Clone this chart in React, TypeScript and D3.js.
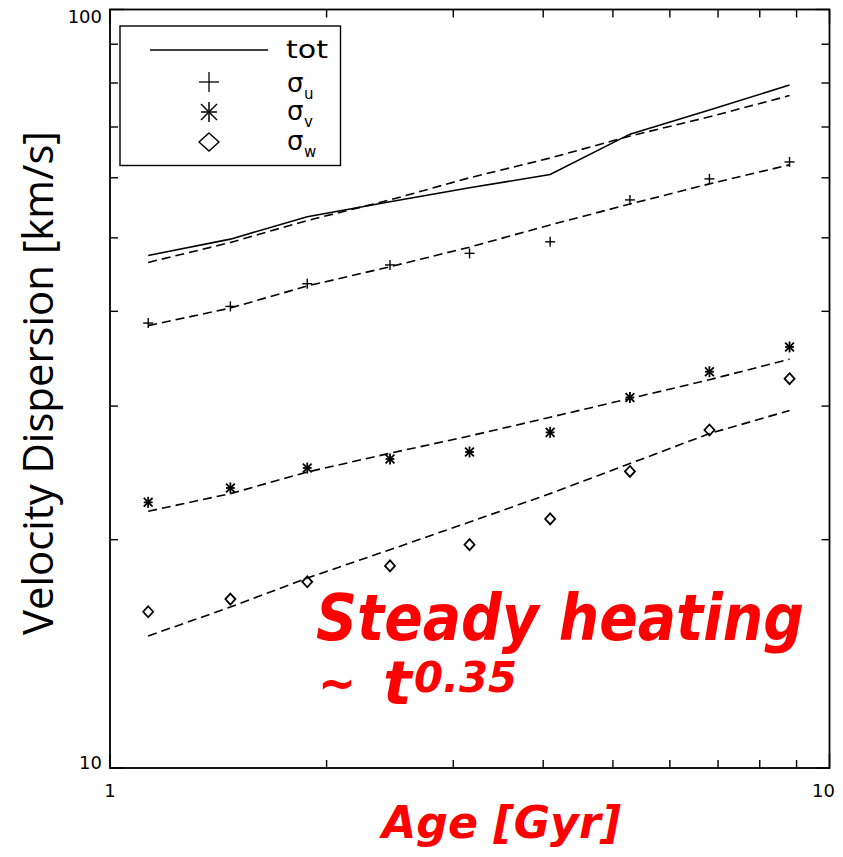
import React from "react";
import * as d3 from "d3";

const ages = [1.13, 1.47, 1.88, 2.45, 3.16, 4.09, 5.28, 6.81, 8.8];
const totObs = [47.4, 49.8, 53.3, 55.8, 58.2, 60.6, 68.5, 73.7, 79.5];
const totFit = [46.4, 49.3, 52.7, 56.1, 60.0, 63.7, 68.1, 72.2, 77.0];
const sigU = [38.6, 40.6, 43.5, 46.05, 47.7, 49.4, 56.1, 59.8, 62.95];
const sigUFit = [38.3, 40.4, 43.2, 45.8, 48.6, 52.0, 55.4, 58.9, 62.4];
const sigV = [22.4, 23.4, 24.86, 25.55, 26.1, 27.7, 30.8, 33.3, 35.9];
const sigVFit = [21.8, 23.0, 24.56, 26.0, 27.4, 29.0, 30.7, 32.5, 34.6];
const sigW = [16.07, 16.7, 17.6, 18.47, 19.7, 21.3, 24.6, 27.9, 32.6];
const sigWFit = [14.93, 16.3, 17.8, 19.4, 21.1, 23.0, 25.2, 27.6, 29.6];

const xTicks = [1, 2, 3, 4, 5, 6, 7, 8, 9, 10];
const yTicks = [10, 20, 30, 40, 50, 60, 70, 80, 90, 100];
const xTickLabels = ["1", "10"];
const yTickLabels = ["10", "100"];

const L = 110, R = 829.5, T = 9.5, B = 768;

export default function App() {
  const x = d3.scaleLog().domain([1, 10]).range([L, R]);
  const y = d3.scaleLog().domain([10, 100]).range([B, T]);
  const line = d3.line<[number, number]>().x(d => x(d[0])).y(d => y(d[1]));
  const pts = (vals: number[]) => ages.map((a, i) => [a, vals[i]] as [number, number]);

  const plus = (cx: number, cy: number, s: number, k: string, sw = 1.4) => (
    <g key={k} stroke="#000" strokeWidth={sw} fill="none">
      <line x1={cx - s} x2={cx + s} y1={cy} y2={cy} />
      <line x1={cx} x2={cx} y1={cy - s} y2={cy + s} />
    </g>
  );
  const star = (cx: number, cy: number, s: number, k: string, sw = 1.8) => {
    const d = s * 0.8;
    return (
      <g key={k} stroke="#000" strokeWidth={sw} fill="none">
        <line x1={cx - d} x2={cx + d} y1={cy} y2={cy} />
        <line x1={cx} x2={cx} y1={cy - s} y2={cy + s} />
        <line x1={cx - d} x2={cx + d} y1={cy - d} y2={cy + d} />
        <line x1={cx - d} x2={cx + d} y1={cy + d} y2={cy - d} />
      </g>
    );
  };
  const diamond = (cx: number, cy: number, sx: number, sy: number, k: string, sw = 1.8) => (
    <path key={k} d={`M${cx},${cy - sy}L${cx + sx},${cy}L${cx},${cy + sy}L${cx - sx},${cy}Z`} stroke="#000" strokeWidth={sw} fill="none" />
  );

  const tickFont = "DejaVu Sans";
  const red = "#ff0000";
  const redFont = "'DejaVu Sans', sans-serif";

  return (
    <svg width={843} height={857} style={{ position: "absolute", left: 0, top: 0, background: "#fff" }}>
      <rect x={0} y={0} width={843} height={857} fill="#fff" />
      {/* frame */}
      <rect x={L} y={T} width={R - L} height={B - T} fill="none" stroke="#000" strokeWidth={1.8} />
      {/* ticks */}
      {xTicks.map((t, i) => {
        const len = t === 1 || t === 10 ? 14 : 8;
        return (
          <g key={"xt" + i} stroke="#000" strokeWidth={1.4}>
            <line x1={x(t)} x2={x(t)} y1={B} y2={B - len} />
            <line x1={x(t)} x2={x(t)} y1={T} y2={T + len} />
          </g>
        );
      })}
      {yTicks.map((t, i) => {
        const len = t === 10 || t === 100 ? 14 : 8;
        return (
          <g key={"yt" + i} stroke="#000" strokeWidth={1.4}>
            <line x1={L} x2={L + len} y1={y(t)} y2={y(t)} />
            <line x1={R} x2={R - len} y1={y(t)} y2={y(t)} />
          </g>
        );
      })}
      {/* tick labels */}
      <text x={x(1)} y={797} textAnchor="middle" fontFamily={tickFont} fontSize={18}>{xTickLabels[0]}</text>
      <text x={x(10) - 6} y={797} textAnchor="middle" fontFamily={tickFont} fontSize={18}>{xTickLabels[1]}</text>
      <text x={102} y={y(10) + 1} textAnchor="end" fontFamily={tickFont} fontSize={18}>{yTickLabels[0]}</text>
      <text x={102} y={23} textAnchor="end" fontFamily={tickFont} fontSize={18}>{yTickLabels[1]}</text>

      {/* axis titles */}
      <text transform="translate(53,383) rotate(-90)" textAnchor="middle" fontFamily="'Open Sans', sans-serif" fontSize={42} textLength={504} lengthAdjust="spacingAndGlyphs">Velocity Dispersion [km/s]</text>
      <text x={382} y={838} fontFamily={redFont} fontWeight="bold" fontStyle="italic" fontSize={45} fill={red} textLength={239} lengthAdjust="spacingAndGlyphs">Age [Gyr]</text>

      {/* lines */}
      <path d={line(pts(totObs)) || ""} fill="none" stroke="#000" strokeWidth={1.6} />
      {[totFit, sigUFit, sigVFit, sigWFit].map((s, i) => (
        <path key={"f" + i} d={line(pts(s)) || ""} fill="none" stroke="#000" strokeWidth={1.6} strokeDasharray="9,5" />
      ))}
      {/* markers */}
      {ages.map((a, i) => plus(x(a), y(sigU[i]), 5, "u" + i))}
      {ages.map((a, i) => star(x(a), y(sigV[i]), 5.5, "v" + i))}
      {ages.map((a, i) => diamond(x(a), y(sigW[i]), 5, 5.5, "w" + i))}

      {/* legend */}
      <rect x={120} y={26} width={220.5} height={139.5} fill="#fff" stroke="#000" strokeWidth={1.4} />
      <line x1={150} x2={268} y1={50} y2={50} stroke="#000" strokeWidth={1.4} />
      <text x={286} y={58} fontFamily={tickFont} fontSize={24} textLength={42} lengthAdjust="spacingAndGlyphs">tot</text>
      {plus(209, 82, 10, "lp", 1.3)}
      {star(209, 112, 10, "ls", 1.5)}
      {diamond(209, 142, 10, 9, "ld", 1.4)}
      {[
        { t: "u", yy: 92 },
        { t: "v", yy: 120 },
        { t: "w", yy: 150 },
      ].map((e, i) => (
        <g key={"lg" + i}>
          <text x={287} y={e.yy} fontFamily={tickFont} fontSize={26}>σ</text>
          <text x={304} y={e.yy + 7} fontFamily={tickFont} fontSize={15}>{e.t}</text>
        </g>
      ))}

      {/* annotation */}
      <text x={316} y={640} fontFamily={redFont} fontWeight="bold" fontStyle="italic" fontSize={64} fill={red} textLength={488} lengthAdjust="spacingAndGlyphs">Steady heating</text>
      <text x={318} y={701} fontFamily={redFont} fontWeight="bold" fontSize={52} fill={red} textLength={38} lengthAdjust="spacingAndGlyphs">~</text>
      <text x={383} y={704} fontFamily={redFont} fontWeight="bold" fontStyle="italic" fontSize={60} fill={red}>t</text>
      <text x={414} y={692} fontFamily={redFont} fontWeight="bold" fontStyle="italic" fontSize={42} fill={red} textLength={103} lengthAdjust="spacingAndGlyphs">0.35</text>
    </svg>
  );
}
